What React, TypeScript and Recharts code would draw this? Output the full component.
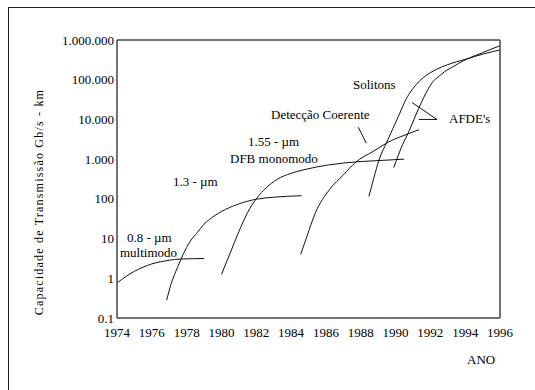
import { LineChart, Line, XAxis, YAxis, ReferenceLine } from "recharts";

const YEAR_TICKS = [1974, 1976, 1978, 1980, 1982, 1984, 1986, 1988, 1990, 1992, 1994, 1996];
const CAP_TICKS = [0.1, 1, 10, 100, 1000, 10000, 100000, 1000000];
const CAP_LABELS = ["0.1", "1", "10", "100", "1.000", "10.000", "100.000", "1.000.000"];

// 0.8 um multimodo
const mm08Years = [1974, 1974.5, 1975, 1975.5, 1976, 1976.5, 1977, 1977.6, 1978.2, 1979];
const mm08Cap = [0.76, 1.1, 1.5, 1.9, 2.3, 2.6, 2.85, 3.05, 3.1, 3.15];

// 1.3 um
const um13Years = [1976.85, 1977.1, 1977.5, 1977.8, 1978.2, 1978.6, 1979, 1979.5, 1980, 1980.9, 1982, 1983, 1984.6];
const um13Cap = [0.28, 0.7, 2, 4, 8.5, 14, 23, 35, 48, 72, 98, 110, 120];

// 1.55 um DFB monomodo
const dfbYears = [1980, 1980.5, 1981, 1981.5, 1982, 1982.6, 1983.2, 1984, 1984.8, 1986.2, 1987.7, 1989, 1990.5];
const dfbCap = [1.25, 4.3, 15, 45, 100, 195, 310, 440, 550, 720, 850, 920, 1000];

// Deteccao coerente
const coerYears = [1984.55, 1984.9, 1985.4, 1986.2, 1987, 1987.7, 1988.7, 1989.6, 1990.7, 1991.35];
const coerCap = [4, 11, 45, 170, 400, 830, 1550, 2700, 4300, 5500];

// Solitons
const solYears = [1988.47, 1988.75, 1989.05, 1989.5, 1990.2, 1990.6, 1991, 1991.4, 1991.8, 1992.3, 1993, 1993.5, 1994.2, 1995, 1996];
const solCap = [115, 330, 950, 2700, 12900, 32000, 60000, 95000, 132000, 178000, 240000, 282000, 345000, 440000, 560000];

// AFDE's
const afdeYears = [1989.9, 1990.4, 1990.76, 1991.33, 1991.9, 1992.2, 1992.5, 1992.8, 1993.23, 1994, 1995, 1996];
const afdeCap = [615, 2300, 4900, 19000, 61000, 95000, 122000, 158000, 204000, 316000, 480000, 720000];

const curves = [
  { id: "mm08", years: mm08Years, cap: mm08Cap },
  { id: "um13", years: um13Years, cap: um13Cap },
  { id: "dfb", years: dfbYears, cap: dfbCap },
  { id: "coer", years: coerYears, cap: coerCap },
  { id: "sol", years: solYears, cap: solCap },
  { id: "afde", years: afdeYears, cap: afdeCap },
];

const toPoints = (years: number[], cap: number[]) => years.map((ano, i) => ({ ano, cap: cap[i] }));

const FONT = '"Liberation Serif", "DejaVu Serif", serif';
const AXIS = "#444";

const notes = [
  { text: "Solitons", left: 353, top: 78 },
  { text: "Detecção Coerente", left: 271, top: 108 },
  { text: "AFDE's", left: 449, top: 112 },
  { text: "1.55 - µm", left: 248, top: 135 },
  { text: "DFB monomodo", left: 230, top: 152 },
  { text: "1.3 - µm", left: 173, top: 175 },
  { text: "0.8 - µm", left: 127, top: 231 },
  { text: "multimodo", left: 120, top: 246 },
  { text: "ANO", left: 467, top: 353 },
];

export default function App() {
  return (
    <div style={{ position: "fixed", left: 0, top: 0, width: 535, height: 390, background: "#fff", overflow: "hidden" }}>
      <div style={{ position: "absolute", left: 8, top: 7, width: 600, height: 500, borderLeft: "1px solid #222", borderTop: "1px solid #222" }} />
      <div style={{ position: "absolute", left: 0, top: 0 }}>
        <LineChart width={535} height={390} margin={{ top: 40, right: 35, bottom: 52, left: 57 }}>
          <XAxis
            dataKey="ano" type="number" domain={[1974, 1996]} allowDataOverflow ticks={YEAR_TICKS}
            height={20} tickLine={false} tickSize={0} tickMargin={10}
            axisLine={{ stroke: AXIS, strokeWidth: 1.5 }}
            tick={{ fontFamily: FONT, fontSize: 13, fill: "#000" }}
          />
          <XAxis
            xAxisId="bm" orientation="bottom" mirror type="number" domain={[1974, 1996]} allowDataOverflow
            ticks={YEAR_TICKS} tick={false} axisLine={false} tickSize={8} tickLine={{ stroke: AXIS }}
          />
          <XAxis
            xAxisId="tm" orientation="top" mirror type="number" domain={[1974, 1996]} allowDataOverflow
            ticks={YEAR_TICKS} tick={false} axisLine={{ stroke: AXIS, strokeWidth: 1.5 }} tickSize={8} tickLine={{ stroke: AXIS }}
          />
          <YAxis
            scale="log" type="number" domain={[0.1, 1000000]} allowDataOverflow ticks={CAP_TICKS}
            width={60} tickLine={false} tickSize={0} tickMargin={3}
            axisLine={{ stroke: AXIS, strokeWidth: 1.5 }}
            tickFormatter={(v: number) => CAP_LABELS[CAP_TICKS.indexOf(v)] ?? String(v)}
            tick={{ fontFamily: FONT, fontSize: 13, fill: "#000" }}
          />
          <YAxis
            yAxisId="lm" orientation="left" mirror scale="log" type="number" domain={[0.1, 1000000]} allowDataOverflow
            ticks={CAP_TICKS} tick={false} axisLine={false} tickSize={8} tickLine={{ stroke: AXIS }}
          />
          <YAxis
            yAxisId="rm" orientation="right" mirror scale="log" type="number" domain={[0.1, 1000000]} allowDataOverflow
            ticks={CAP_TICKS} tick={false} axisLine={{ stroke: AXIS, strokeWidth: 1.5 }} tickSize={8} tickLine={{ stroke: AXIS }}
          />
          {curves.map((c) => (
            <Line
              key={c.id} data={toPoints(c.years, c.cap)} dataKey="cap" type="monotone"
              stroke="#111" strokeWidth={1} dot={false} isAnimationActive={false}
            />
          ))}
          <ReferenceLine segment={[{ x: 1987.86, y: 6340 }, { x: 1988.32, y: 2530 }]} stroke="#111" />
          <ReferenceLine segment={[{ x: 1990.95, y: 26500 }, { x: 1992.38, y: 10000 }]} stroke="#111" />
          <ReferenceLine segment={[{ x: 1991.33, y: 10000 }, { x: 1992.38, y: 10000 }]} stroke="#111" />
        </LineChart>
      </div>
      <div
        style={{
          position: "absolute", left: 39, top: 202, transform: "translate(-50%, -50%) rotate(-90deg)",
          whiteSpace: "nowrap", fontFamily: FONT, fontSize: 12, letterSpacing: 1.2, lineHeight: "14px",
        }}
      >
        Capacidade de Transmissão Gb/s - km
      </div>
      {notes.map((n) => (
        <div
          key={n.text}
          style={{ position: "absolute", left: n.left, top: n.top, fontFamily: FONT, fontSize: 13, lineHeight: "14px", whiteSpace: "nowrap" }}
        >
          {n.text}
        </div>
      ))}
    </div>
  );
}
